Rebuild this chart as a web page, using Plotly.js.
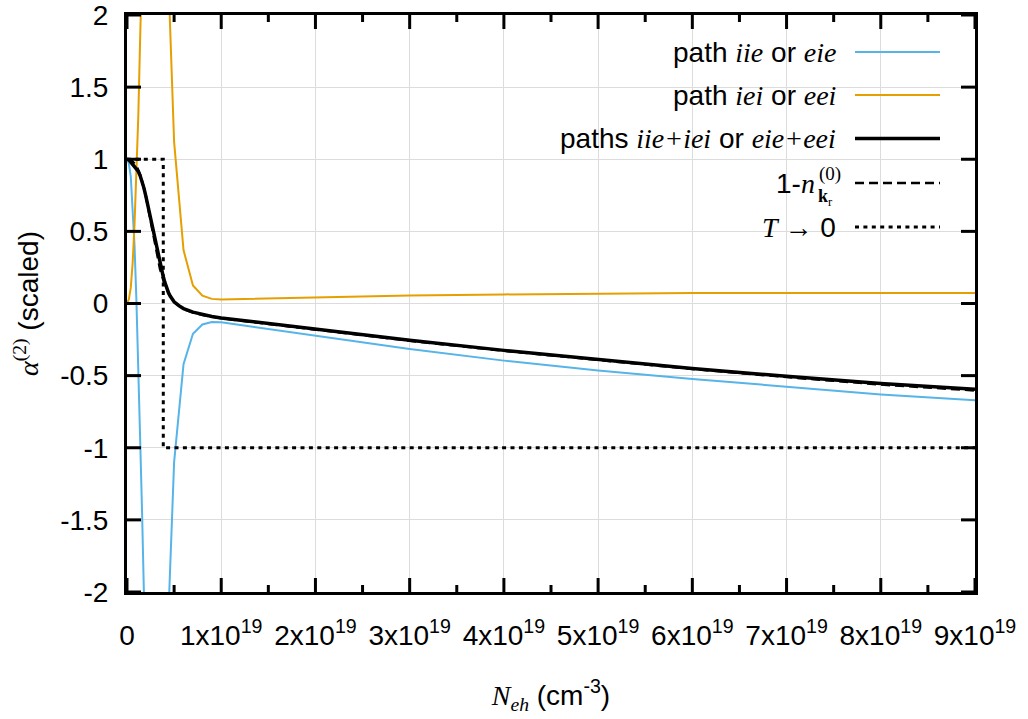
<!DOCTYPE html>
<html>
<head>
<meta charset="utf-8">
<script src="https://cdn.plot.ly/plotly-3.0.1.min.js"></script>
<style>
  html, body { margin: 0; padding: 0; background: #ffffff; }
  #chart { width: 1028px; height: 719px; }
</style>
</head>
<body>
<div id="chart"></div>
<script>
// Carrier density N_eh in units of 1e19 cm^-3; alpha^(2) in scaled units.

// path iie or eie
const iieX = [0, 0.02, 0.04, 0.06, 0.08, 0.1, 0.12, 0.14, 0.16, 0.18, 0.2, 0.4, 0.5, 0.6, 0.7, 0.8, 0.9, 1.0, 1.5, 2, 3, 4, 5, 6, 7, 8, 9];
const iieY = [1.0, 0.97, 0.88, 0.68, 0.40, 0.02, -0.40, -0.95, -1.45, -2.0, -2.6, -2.85, -1.1, -0.42, -0.21, -0.145, -0.128, -0.13, -0.176, -0.222, -0.315, -0.396, -0.465, -0.523, -0.578, -0.63, -0.67];

// path iei or eei
const ieiX = [0, 0.02, 0.04, 0.06, 0.08, 0.1, 0.12, 0.14, 0.16, 0.18, 0.2, 0.4, 0.5, 0.6, 0.7, 0.8, 0.9, 1.0, 1.5, 2, 3, 4, 5, 6, 7, 8, 9];
const ieiY = [0, 0.03, 0.11, 0.28, 0.55, 0.93, 1.3, 1.85, 2.3, 2.8, 3.35, 3.0, 1.12, 0.37, 0.125, 0.055, 0.032, 0.028, 0.036, 0.044, 0.056, 0.063, 0.069, 0.072, 0.073, 0.073, 0.072];

// paths iie+iei or eie+eei
const sumX = [0, 0.02, 0.04, 0.06, 0.08, 0.1, 0.12, 0.14, 0.16, 0.18, 0.2, 0.22, 0.24, 0.26, 0.28, 0.3, 0.32, 0.34, 0.36, 0.38, 0.4, 0.42, 0.44, 0.46, 0.48, 0.5, 0.55, 0.6, 0.7, 0.8, 0.9, 1.0, 1.5, 2, 3, 4, 5, 6, 7, 8, 9];
const sumY = [1.0, 0.995, 0.98, 0.965, 0.95, 0.935, 0.915, 0.885, 0.85, 0.80, 0.745, 0.685, 0.615, 0.545, 0.48, 0.42, 0.36, 0.305, 0.25, 0.20, 0.15, 0.11, 0.075, 0.05, 0.03, 0.012, -0.015, -0.035, -0.06, -0.078, -0.09, -0.10, -0.14, -0.18, -0.255, -0.325, -0.39, -0.45, -0.505, -0.555, -0.595];

// 1 - n_kr^(0)
const occX = [0, 0.05, 0.1, 0.15, 0.2, 0.25, 0.3, 0.35, 0.4, 0.45, 0.5, 0.6, 0.7, 0.8, 0.9, 1, 1.5, 2, 3, 4, 5, 6, 7, 8, 9];
const occY = [1.0, 0.99, 0.955, 0.875, 0.745, 0.57, 0.39, 0.24, 0.13, 0.06, 0.01, -0.038, -0.062, -0.08, -0.092, -0.102, -0.142, -0.182, -0.258, -0.328, -0.393, -0.454, -0.51, -0.562, -0.603];

// T -> 0 limit (step)
const zeroTX = [0, 0.385, 0.385, 9];
const zeroTY = [1, 1, -1, -1];

// axes
const xRange = [0, 9];
const yRange = [-2, 2];
const xTickVals = [0, 1, 2, 3, 4, 5, 6, 7, 8, 9];
const xTickText = ['0', '1x10<sup>19</sup>', '2x10<sup>19</sup>', '3x10<sup>19</sup>', '4x10<sup>19</sup>',
                   '5x10<sup>19</sup>', '6x10<sup>19</sup>', '7x10<sup>19</sup>', '8x10<sup>19</sup>', '9x10<sup>19</sup>'];
const xMinorVals = [0.5, 1.5, 2.5, 3.5, 4.5, 5.5, 6.5, 7.5, 8.5];
const yTickVals = [-2, -1.5, -1, -0.5, 0, 0.5, 1, 1.5, 2];
const yTickText = ['-2', '-1.5', '-1', '-0.5', '0', '0.5', '1', '1.5', '2'];

const serif = s => '<span style="font-family:Liberation Serif">' + s + '</span>';

const legendLabels = [
  'path ' + serif('<i>iie</i>') + ' or ' + serif('<i>eie</i>'),
  'path ' + serif('<i>iei</i>') + ' or ' + serif('<i>eei</i>'),
  'paths ' + serif('<i>iie+iei</i>') + ' or ' + serif('<i>eie+eei</i>'),
  '1-' + serif('<i>n</i>'),
  serif('<i>T</i> \u2192') + ' 0'
];

const SKY = '#56b4e9';
const ORANGE = '#e69f00';
const BLACK = '#000000';
const FONT = 'Liberation Sans';
const FS = 28;

// plot box in page pixels
const L = 127, R = 975, T = 15, B = 592;
const px = v => (v - L) / (R - L);
const py = v => (B - v) / (B - T);
// axis value -> fraction of the plot box
const fx = v => (v - xRange[0]) / (xRange[1] - xRange[0]);
const fy = v => (v - yRange[0]) / (yRange[1] - yRange[0]);

const lineStyles = [
  {color: SKY, width: 2},
  {color: ORANGE, width: 2},
  {color: BLACK, width: 3.5},
  {color: BLACK, width: 2.5, dash: '9px,5px'},
  {color: BLACK, width: 3, dash: '4px,4.4px'}
];

const traces = [
  {x: iieX, y: iieY, mode: 'lines', line: lineStyles[0], name: 'iie'},
  {x: ieiX, y: ieiY, mode: 'lines', line: lineStyles[1], name: 'iei'},
  {x: sumX, y: sumY, mode: 'lines', line: lineStyles[2], name: 'sum'},
  {x: occX, y: occY, mode: 'lines', line: lineStyles[3], name: 'occ'},
  {x: zeroTX, y: zeroTY, mode: 'lines', line: lineStyles[4], name: 'T0'}
];

// key rows (page pixel y of each row)
const rowY = [52, 95, 138.5, 183, 227];
const textRight = 838, sampleL = 855, sampleR = 940;

const annotations = [];
const shapes = [
  // opaque key box
  {type: 'rect', xref: 'paper', yref: 'paper', x0: px(545), x1: px(950), y0: py(245), y1: 1,
   fillcolor: '#ffffff', line: {width: 0}, layer: 'between'}
];

// inward tick marks on all four sides of the frame
const MAJ = 14, MIN = 7, TW = 3, TC = '#000000';
const addXTick = (v, len) => {
  const h = len / (B - T), f = fx(v);
  shapes.push({type: 'line', xref: 'paper', yref: 'paper', x0: f, x1: f, y0: 0, y1: h,
               line: {color: TC, width: TW}});
  shapes.push({type: 'line', xref: 'paper', yref: 'paper', x0: f, x1: f, y0: 1, y1: 1 - h,
               line: {color: TC, width: TW}});
};
xTickVals.forEach(v => addXTick(v, MAJ));
xMinorVals.forEach(v => addXTick(v, MIN));
yTickVals.forEach(v => {
  const w = MAJ / (R - L), f = fy(v);
  shapes.push({type: 'line', xref: 'paper', yref: 'paper', x0: 0, x1: w, y0: f, y1: f,
               line: {color: TC, width: TW}});
  shapes.push({type: 'line', xref: 'paper', yref: 'paper', x0: 1, x1: 1 - w, y0: f, y1: f,
               line: {color: TC, width: TW}});
});

legendLabels.forEach((lab, i) => {
  const rightEdge = (i === 3) ? 817 : textRight;
  annotations.push({
    xref: 'paper', yref: 'paper', x: px(rightEdge), y: py(rowY[i]),
    xanchor: 'right', yanchor: 'middle', showarrow: false, text: lab,
    font: {family: FONT, size: FS, color: '#000'}
  });
  const st = lineStyles[i];
  shapes.push({
    type: 'line', xref: 'paper', yref: 'paper',
    x0: px(sampleL), x1: px(sampleR), y0: py(rowY[i]), y1: py(rowY[i]),
    line: {color: st.color, width: st.width, dash: st.dash || 'solid'}
  });
});

// stacked superscript / subscript on n
annotations.push({
  xref: 'paper', yref: 'paper', x: px(817), y: py(174), xanchor: 'left', yanchor: 'middle',
  showarrow: false, text: '(0)', font: {family: 'Liberation Serif', size: 19, color: '#000'}
});
annotations.push({
  xref: 'paper', yref: 'paper', x: px(816), y: py(197), xanchor: 'left', yanchor: 'middle',
  showarrow: false, text: '<b>k</b><sub>r</sub>', font: {family: 'Liberation Serif', size: 18, color: '#000'}
});

const axisCommon = {
  showline: true, linewidth: 3, linecolor: '#000', mirror: true,
  ticks: '', ticklabeloverflow: 'allow',
  showgrid: true, gridcolor: '#dcdcdc', gridwidth: 1, zeroline: false,
  tickfont: {family: FONT, size: FS, color: '#000'}
};

const layout = {
  width: 1028, height: 719,
  margin: {l: L, r: 1028 - R, t: T, b: 719 - B},
  paper_bgcolor: '#ffffff', plot_bgcolor: '#ffffff',
  showlegend: false,
  font: {family: FONT, color: '#000'},
  xaxis: Object.assign({}, axisCommon, {
    range: xRange, tickmode: 'array', tickvals: xTickVals, ticktext: xTickText,
    ticklabelstandoff: 16,
    title: {text: serif('<i>N</i><sub><i>eh</i></sub>') + ' (cm<sup>-3</sup>)',
            font: {family: FONT, size: FS, color: '#000'}, standoff: 36}
  }),
  yaxis: Object.assign({}, axisCommon, {
    range: yRange, tickmode: 'array', tickvals: yTickVals, ticktext: yTickText,
    ticklabelstandoff: 10,
    title: {text: serif('<i>\u03b1</i><sup>(2)</sup>') + ' (scaled)',
            font: {family: FONT, size: FS, color: '#000'}, standoff: 14}
  }),
  shapes: shapes,
  annotations: annotations
};

Plotly.newPlot('chart', traces, layout, {displayModeBar: false, staticPlot: true});
</script>
</body>
</html>
